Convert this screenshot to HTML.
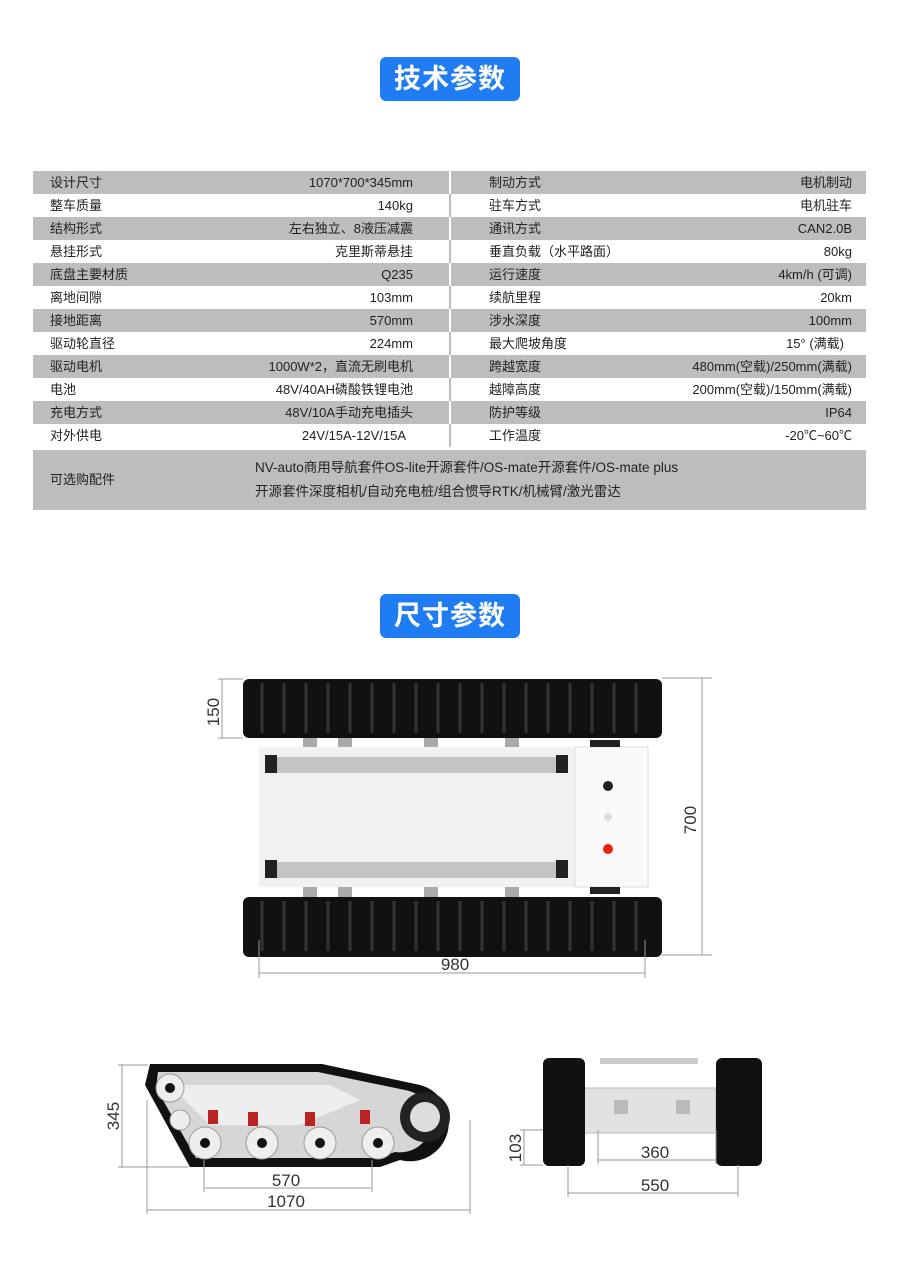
<!DOCTYPE html>
<html><head><meta charset="utf-8"><style>
*{margin:0;padding:0;box-sizing:border-box}
body{width:900px;height:1270px;background:#fff;position:relative;font-family:"Liberation Sans","Noto Sans CJK SC",sans-serif;color:#222;overflow:hidden}
.btn{position:absolute;left:380px;width:140px;height:44px;background:#1f7cf2;border-radius:6px;color:#fff;font-size:27px;font-weight:bold;text-align:center;line-height:44px;letter-spacing:1px}
.row{position:absolute;left:33px;width:833px;height:23px;font-size:13px;line-height:23px}
.g{background:#bdbdbd}
.row span{position:absolute}
.l1{left:17px}.v1{right:453px}.l2{left:456px}.v2{right:14px}
.sep{position:absolute;left:416px;top:0;width:2px;height:23px;background:#bdbdbd}
.g .sep{background:#fff}
</style></head><body>
<div class="btn" style="top:57px">技术参数</div>
<div class="btn" style="top:594px">尺寸参数</div>

<div class="row g" style="top:171px"><span class="l1">设计尺寸</span><span class="v1">1070*700*345mm</span><i class="sep"></i><span class="l2">制动方式</span><span class="v2">电机制动</span></div>
<div class="row" style="top:194px"><span class="l1">整车质量</span><span class="v1">140kg</span><i class="sep"></i><span class="l2">驻车方式</span><span class="v2">电机驻车</span></div>
<div class="row g" style="top:217px"><span class="l1">结构形式</span><span class="v1">左右独立、8液压减震</span><i class="sep"></i><span class="l2">通讯方式</span><span class="v2">CAN2.0B</span></div>
<div class="row" style="top:240px"><span class="l1">悬挂形式</span><span class="v1">克里斯蒂悬挂</span><i class="sep"></i><span class="l2">垂直负载（水平路面）</span><span class="v2">80kg</span></div>
<div class="row g" style="top:263px"><span class="l1">底盘主要材质</span><span class="v1">Q235</span><i class="sep"></i><span class="l2">运行速度</span><span class="v2">4km/h (可调)</span></div>
<div class="row" style="top:286px"><span class="l1">离地间隙</span><span class="v1">103mm</span><i class="sep"></i><span class="l2">续航里程</span><span class="v2">20km</span></div>
<div class="row g" style="top:309px"><span class="l1">接地距离</span><span class="v1">570mm</span><i class="sep"></i><span class="l2">涉水深度</span><span class="v2">100mm</span></div>
<div class="row" style="top:332px"><span class="l1">驱动轮直径</span><span class="v1">224mm</span><i class="sep"></i><span class="l2">最大爬坡角度</span><span class="v2" style="right:22px">15° (满载)</span></div>
<div class="row g" style="top:355px"><span class="l1">驱动电机</span><span class="v1">1000W*2，直流无刷电机</span><i class="sep"></i><span class="l2">跨越宽度</span><span class="v2">480mm(空载)/250mm(满载)</span></div>
<div class="row" style="top:378px"><span class="l1">电池</span><span class="v1">48V/40AH磷酸铁锂电池</span><i class="sep"></i><span class="l2">越障高度</span><span class="v2">200mm(空载)/150mm(满载)</span></div>
<div class="row g" style="top:401px"><span class="l1">充电方式</span><span class="v1">48V/10A手动充电插头</span><i class="sep"></i><span class="l2">防护等级</span><span class="v2">IP64</span></div>
<div class="row" style="top:424px"><span class="l1">对外供电</span><span class="v1" style="right:460px">24V/15A-12V/15A</span><i class="sep"></i><span class="l2">工作温度</span><span class="v2">-20℃~60℃</span></div>
<div class="row g" style="top:450px;height:60px"><span class="l1" style="top:18px">可选购配件</span>
<span style="left:222px;top:6px;font-size:13.5px">NV-auto商用导航套件OS-lite开源套件/OS-mate开源套件/OS-mate plus</span>
<span style="left:222px;top:30px;font-size:13.5px">开源套件深度相机/自动充电桩/组合惯导RTK/机械臂/激光雷达</span></div>

<svg width="900" height="1270" style="position:absolute;left:0;top:0" font-family="Liberation Sans, sans-serif">
<!-- top view -->
<g fill="#aaa"><rect x="303" y="738" width="14" height="10"/><rect x="338" y="738" width="14" height="10"/><rect x="424" y="738" width="14" height="10"/><rect x="505" y="738" width="14" height="10"/>
<rect x="303" y="887" width="14" height="10"/><rect x="338" y="887" width="14" height="10"/><rect x="424" y="887" width="14" height="10"/><rect x="505" y="887" width="14" height="10"/></g>
<rect x="259" y="747" width="316" height="140" fill="#f1f1f1"/>
<rect x="575" y="747" width="73" height="140" fill="#fafafa" stroke="#ddd"/>
<rect x="268" y="757" width="300" height="16" fill="#c4c4c4"/><rect x="268" y="862" width="300" height="16" fill="#c4c4c4"/>
<rect x="265" y="755" width="12" height="18" fill="#222"/><rect x="556" y="755" width="12" height="18" fill="#222"/>
<rect x="265" y="860" width="12" height="18" fill="#222"/><rect x="556" y="860" width="12" height="18" fill="#222"/>
<rect x="590" y="740" width="30" height="7" fill="#222"/><rect x="590" y="887" width="30" height="7" fill="#222"/>
<circle cx="608" cy="786" r="5" fill="#222"/><circle cx="608" cy="817" r="4" fill="#ddd"/><circle cx="608" cy="849" r="5" fill="#e21"/>
<rect x="243" y="679" width="419" height="59" rx="6" fill="#111"/>
<rect x="243" y="897" width="419" height="60" rx="6" fill="#111"/>
<g stroke="#333" stroke-width="3">
<path d="M262 683v50M284 683v50M306 683v50M328 683v50M350 683v50M372 683v50M394 683v50M416 683v50M438 683v50M460 683v50M482 683v50M504 683v50M526 683v50M548 683v50M570 683v50M592 683v50M614 683v50M636 683v50"/>
<path d="M262 901v50M284 901v50M306 901v50M328 901v50M350 901v50M372 901v50M394 901v50M416 901v50M438 901v50M460 901v50M482 901v50M504 901v50M526 901v50M548 901v50M570 901v50M592 901v50M614 901v50M636 901v50"/></g>
<g stroke="#999" stroke-width="1" fill="none">
<path d="M222 679v59M218 679h25M218 738h25"/>
<path d="M702 678v277M662 678h50M662 955h50"/>
<path d="M259 973h386M259 940v38M645 940v38"/>
</g>
<g font-size="17" fill="#333">
<text x="222" y="712" transform="rotate(-90 222 712)" text-anchor="middle" dy="-3">150</text>
<text x="696" y="820" transform="rotate(-90 696 820)" text-anchor="middle">700</text>
<text x="455" y="970" text-anchor="middle">980</text>
</g>
<!-- side view -->
<path d="M150 1064 L322 1064 L420 1085 A33 33 0 0 1 400 1160 L380 1167 L190 1167 L145 1085 Z" fill="#111"/>
<path d="M158 1072 L318 1072 L405 1090 A24 24 0 0 1 395 1152 L378 1158 L196 1158 L156 1088 Z" fill="#d6d6d6"/>
<path d="M170 1085 L330 1085 L360 1100 L300 1125 L210 1125 Z" fill="#eee"/>
<circle cx="425" cy="1117" r="25" fill="#222"/><circle cx="425" cy="1117" r="15" fill="#ddd"/>
<g fill="#eee" stroke="#999"><circle cx="170" cy="1088" r="14"/><circle cx="180" cy="1120" r="10"/>
<circle cx="205" cy="1143" r="16"/><circle cx="262" cy="1143" r="16"/><circle cx="320" cy="1143" r="16"/><circle cx="378" cy="1143" r="16"/></g>
<g fill="#111"><circle cx="205" cy="1143" r="5"/><circle cx="262" cy="1143" r="5"/><circle cx="320" cy="1143" r="5"/><circle cx="378" cy="1143" r="5"/><circle cx="170" cy="1088" r="5"/></g>
<g fill="#b22"><rect x="208" y="1110" width="10" height="14"/><rect x="248" y="1112" width="10" height="14"/><rect x="305" y="1112" width="10" height="14"/><rect x="360" y="1110" width="10" height="14"/></g>
<g stroke="#999" fill="none">
<path d="M122 1065v102M118 1065h30M118 1167h70"/>
<path d="M204 1188h168M204 1160v32M372 1160v32"/>
<path d="M147 1210h323M147 1100v114M470 1120v94"/>
</g>
<g font-size="17" fill="#333">
<text x="122" y="1116" transform="rotate(-90 122 1116)" text-anchor="middle" dy="-3">345</text>
<text x="286" y="1186" text-anchor="middle">570</text>
<text x="286" y="1207" text-anchor="middle">1070</text>
</g>
<!-- front view -->
<rect x="600" y="1058" width="98" height="6" fill="#ccc"/>
<rect x="583" y="1088" width="133" height="45" fill="#e2e2e2" stroke="#bbb"/>
<rect x="543" y="1058" width="42" height="108" rx="6" fill="#111"/>
<rect x="716" y="1058" width="46" height="108" rx="6" fill="#111"/>
<g fill="#bbb"><rect x="614" y="1100" width="14" height="14"/><rect x="676" y="1100" width="14" height="14"/></g>
<g stroke="#999" fill="none">
<path d="M524 1130v35M520 1130h23M520 1165h23"/>
<path d="M598 1160h118M598 1130v34M716 1130v34"/>
<path d="M568 1193h170M568 1165v32M738 1165v32"/>
</g>
<g font-size="17" fill="#333">
<text x="524" y="1148" transform="rotate(-90 524 1148)" text-anchor="middle" dy="-3">103</text>
<text x="655" y="1158" text-anchor="middle">360</text>
<text x="655" y="1191" text-anchor="middle">550</text>
</g>
</svg>
</body></html>
